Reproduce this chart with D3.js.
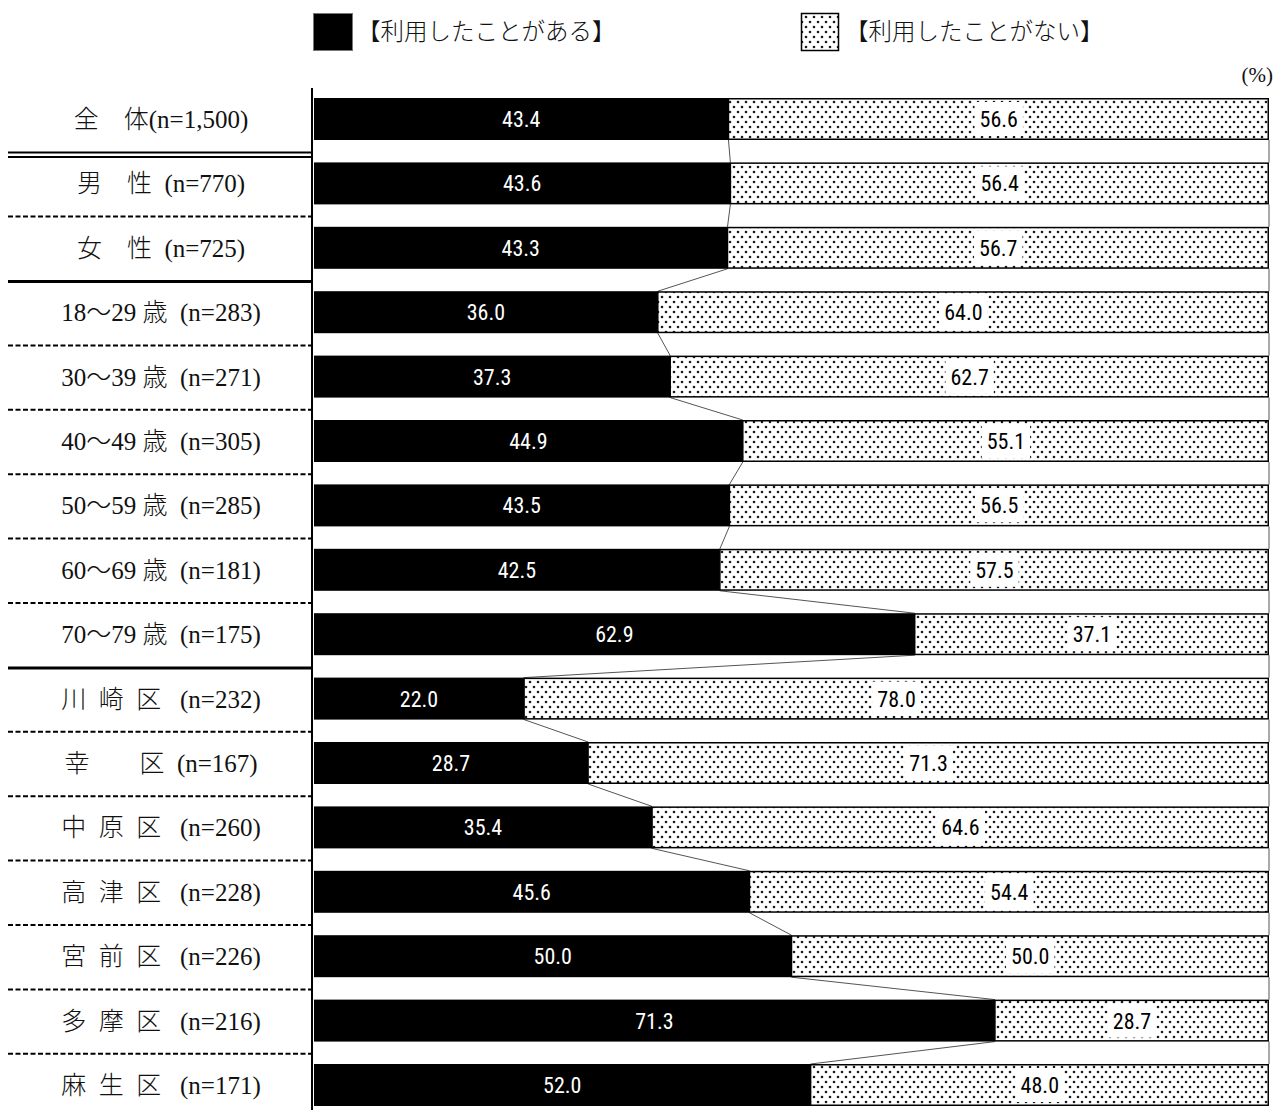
<!DOCTYPE html>
<html><head><meta charset="utf-8">
<script src="https://cdn.jsdelivr.net/npm/d3@7"></script>
<style>
html,body{margin:0;padding:0;background:#fff;}
svg{display:block;}
text{white-space:pre;}
</style>
</head><body>
<svg id="chart" width="1276" height="1110"></svg>
<script>
const categories = ["全　体(n=1,500)","男　性 (n=770)","女　性 (n=725)","18〜29 歳 (n=283)","30〜39 歳 (n=271)","40〜49 歳 (n=305)","50〜59 歳 (n=285)","60〜69 歳 (n=181)","70〜79 歳 (n=175)","川 崎 区 (n=232)","幸　　区 (n=167)","中 原 区 (n=260)","高 津 区 (n=228)","宮 前 区 (n=226)","多 摩 区 (n=216)","麻 生 区 (n=171)"];
const usedValues = [43.4,43.6,43.3,36.0,37.3,44.9,43.5,42.5,62.9,22.0,28.7,35.4,45.6,50.0,71.3,52.0];
const notUsedValues = [56.6,56.4,56.7,64.0,62.7,55.1,56.5,57.5,37.1,78.0,71.3,64.6,54.4,50.0,28.7,48.0];
const seriesNames = ["【利用したことがある】","【利用したことがない】"];
// separator types after each row (between row i and i+1)
const separators = ["double","dash","solid","dash","dash","dash","dash","dash","solid","dash","dash","dash","dash","dash","dash"];

const svg = d3.select("#chart");
const defs = svg.append("defs");
const pat = defs.append("pattern").attr("id","dots").attr("patternUnits","userSpaceOnUse")
  .attr("width",8).attr("height",10);
pat.append("rect").attr("width",8).attr("height",10).attr("fill","#fff");
pat.append("circle").attr("cx",2).attr("cy",2).attr("r",1.3).attr("fill","#1a1a1a");
pat.append("circle").attr("cx",6).attr("cy",7).attr("r",1.3).attr("fill","#1a1a1a");

const x = d3.scaleLinear().domain([0,100]).range([314,1269]);
const y = d3.scaleBand().domain(categories).range([86.8,1117.2]).paddingInner(0.348).paddingOuter(0.174);
const bw = y.bandwidth();

const rows = categories.map((c,i)=>({cat:c, a:usedValues[i], b:notUsedValues[i]}));

// connector lines
const conn = svg.append("g").attr("stroke","#555").attr("stroke-width",1);
for(let i=0;i<rows.length-1;i++){
  const y0 = y(rows[i].cat)+bw, y1 = y(rows[i+1].cat);
  conn.append("line").attr("x1",x(rows[i].a)).attr("y1",y0).attr("x2",x(rows[i+1].a)).attr("y2",y1);
  conn.append("line").attr("x1",x(rows[i].a+rows[i].b)).attr("y1",y0).attr("x2",x(rows[i+1].a+rows[i+1].b)).attr("y2",y1);
}

// bars
const g = svg.append("g");
g.selectAll("rect.a").data(rows).join("rect").attr("class","a")
  .attr("x",x(0)).attr("y",d=>y(d.cat)).attr("width",d=>x(d.a)-x(0)).attr("height",bw).attr("fill","#000");
g.selectAll("rect.b").data(rows).join("rect").attr("class","b")
  .attr("x",d=>x(d.a)).attr("y",d=>y(d.cat)+0.75).attr("width",d=>x(d.a+d.b)-x(d.a)-0.75).attr("height",bw-1.5)
  .attr("fill","url(#dots)").attr("stroke","#000").attr("stroke-width",1.5);

const numFont = "'Liberation Sans Narrow','Roboto Condensed','Arial Narrow',sans-serif";
// labels on black
g.selectAll("text.a").data(rows).join("text").attr("class","a")
  .attr("x",d=>(x(0)+x(d.a))/2).attr("y",d=>y(d.cat)+bw/2).attr("dy","0.36em")
  .attr("text-anchor","middle").attr("fill","#fff").attr("font-family",numFont).attr("font-size",22)
  .text(d=>d.a.toFixed(1));
// labels on pattern
const lb = g.selectAll("g.lb").data(rows).join("g").attr("class","lb")
  .attr("transform",d=>`translate(${(x(d.a)+x(d.a+d.b))/2},${y(d.cat)+bw/2})`);
lb.append("rect").attr("fill","#fff");
lb.append("text").attr("text-anchor","middle").attr("dy","0.36em").attr("fill","#000")
  .attr("font-family",numFont).attr("font-size",22).text(d=>d.b.toFixed(1));
lb.each(function(){
  const t = d3.select(this).select("text").node().getBBox();
  d3.select(this).select("rect").attr("x",t.x-5).attr("y",-17).attr("width",t.width+10).attr("height",34);
});

// category labels (display spacing: wider gaps between spaced-out kanji)
function displayLabel(s){
  let t = s.replace(/([\u4e00-\u9fff]) (?=[\u4e00-\u9fff])/g, "$1\u2002");
  if (/[\u4e00-\u9fff]\u2002/.test(t)) t = t.replace(" (", "\u2002 (");
  else t = t.replace(" (", "  (");
  return t;
}
svg.append("g").selectAll("text").data(rows).join("text")
  .attr("x",161).attr("y",d=>y(d.cat)+bw/2).attr("dy","0.36em").attr("text-anchor","middle")
  .attr("font-family","'Liberation Serif','Noto Sans CJK JP',serif").attr("font-size",25).attr("font-weight",300).attr("fill","#111")
  .text(d=>displayLabel(d.cat));

// separators
const sep = svg.append("g");
separators.forEach((s,i)=>{
  const mid = (y(categories[i])+bw + y(categories[i+1]))/2;
  if(s==="double"){
    [mid+1.3, mid+5.7].forEach(yy=>sep.append("line").attr("x1",8).attr("x2",311).attr("y1",yy).attr("y2",yy).attr("stroke","#000").attr("stroke-width",2));
  } else if(s==="solid"){
    sep.append("line").attr("x1",8).attr("x2",311).attr("y1",mid+1.5).attr("y2",mid+1.5).attr("stroke","#000").attr("stroke-width",3);
  } else {
    sep.append("line").attr("x1",8).attr("x2",311).attr("y1",mid+1).attr("y2",mid+1).attr("stroke","#000").attr("stroke-width",2).attr("stroke-dasharray","5,2.5");
  }
});

// axis line
svg.append("line").attr("x1",312).attr("x2",312).attr("y1",88).attr("y2",1110).attr("stroke","#000").attr("stroke-width",2);

// legend
const leg = svg.append("g");
leg.append("rect").attr("x",313.5).attr("y",13.5).attr("width",39).attr("height",37).attr("fill","#000").attr("stroke","#777").attr("stroke-width",1);
leg.append("text").attr("x",357).attr("y",32).attr("dy","0.36em").attr("font-family","'Noto Sans CJK JP',sans-serif").attr("font-size",23.5).attr("font-weight",300).attr("fill","#111").text(seriesNames[0]);
leg.append("rect").attr("x",801.5).attr("y",13.5).attr("width",37).attr("height",37).attr("fill","url(#dots)").attr("stroke","#000").attr("stroke-width",1.5);
leg.append("text").attr("x",845).attr("y",32).attr("dy","0.36em").attr("font-family","'Noto Sans CJK JP',sans-serif").attr("font-size",23.5).attr("font-weight",300).attr("fill","#111").text(seriesNames[1]);

svg.append("text").attr("x",1273).attr("y",74).attr("dy","0.36em").attr("text-anchor","end")
  .attr("font-family","'Liberation Serif',serif").attr("font-size",21).attr("fill","#111").text("(%)");
</script>
</body></html>
